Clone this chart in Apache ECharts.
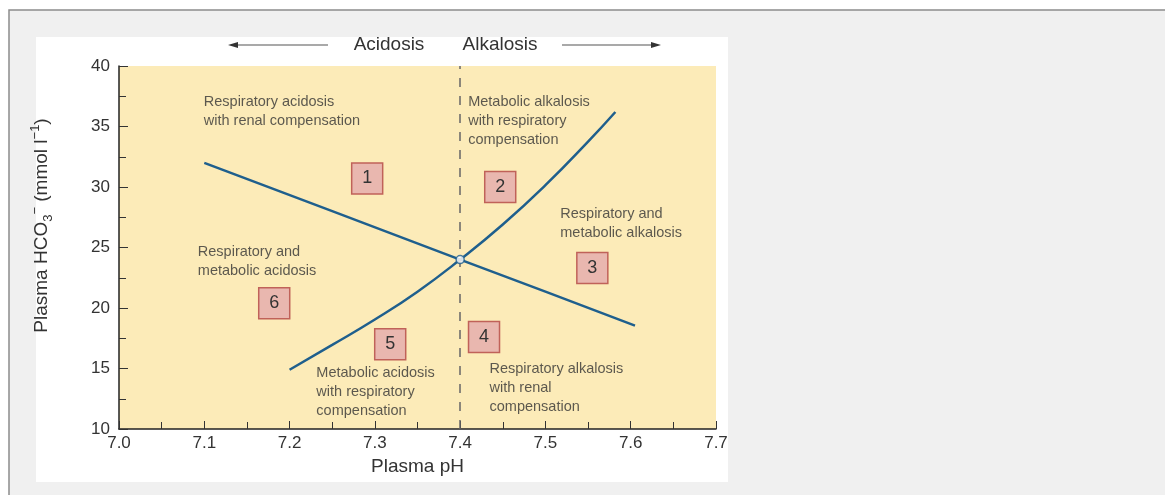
<!DOCTYPE html>
<html>
<head>
<meta charset="utf-8">
<script src="https://cdn.jsdelivr.net/npm/echarts@6/dist/echarts.min.js"></script>
<style>
html,body{margin:0;padding:0;background:#fff;}
#chart{width:1165px;height:495px;}
</style>
</head>
<body>
<div id="chart"></div>
<script>
// ---- data ----
const bufferLine = [[7.1, 32.0], [7.25, 28.0], [7.4, 24.0], [7.5, 21.35], [7.605, 18.55]];
const isoCO2Line = [[7.2, 14.9], [7.25, 16.95], [7.3, 19.05], [7.35, 21.35], [7.4, 24.0], [7.45, 26.9], [7.5, 30.15], [7.55, 33.75], [7.582, 36.2]];
const normalPoint = [[7.4, 24]];
const neutralPH = 7.4;
const boxNumbers = ['1', '2', '3', '4', '5', '6'];
const boxCoords = [[7.291, 30.7], [7.447, 30.0], [7.555, 23.3], [7.428, 17.6], [7.318, 17.0], [7.182, 20.4]];
const regionLabels = [
  'Respiratory acidosis\nwith renal compensation',
  'Metabolic alkalosis\nwith respiratory\ncompensation',
  'Respiratory and\nmetabolic alkalosis',
  'Respiratory and\nmetabolic acidosis',
  'Metabolic acidosis\nwith respiratory\ncompensation',
  'Respiratory alkalosis\nwith renal\ncompensation'
];
const regionAnchors = [[7.1, 37.8], [7.41, 37.8], [7.518, 28.55], [7.093, 25.4], [7.232, 15.4], [7.435, 15.7]];
const topLabels = ['Acidosis', 'Alkalosis'];
const xAxisName = 'Plasma pH';
const yAxisName = 'Plasma HCO{sub|3}{sup|\u2212} (mmol l{sup|\u22121})';

const FONT = "'Liberation Sans', Arial, sans-serif";
const BLUE = '#1f5f8d';
const chart = echarts.init(document.getElementById('chart'), null, {renderer: 'canvas'});

const option = {
  backgroundColor: '#ffffff',
  animation: false,
  textStyle: {fontFamily: FONT},
  grid: {left: 119, right: 449, top: 66, bottom: 66, show: true, backgroundColor: '#fcebb8', borderWidth: 0, containLabel: false},
  xAxis: {
    type: 'value', min: 7.0, max: 7.7, interval: 0.1,
    name: xAxisName, nameLocation: 'middle', nameGap: 28,
    nameTextStyle: {fontSize: 19, color: '#333', fontFamily: FONT},
    axisLine: {show: true, onZero: false, lineStyle: {color: '#222', width: 1.5}},
    axisTick: {show: true, inside: true, length: 8, lineStyle: {color: '#333', width: 1}},
    minorTick: {show: true, splitNumber: 2, length: 7, lineStyle: {color: '#333', width: 1}},
    splitLine: {show: false}, minorSplitLine: {show: false},
    axisLabel: {fontSize: 17, color: '#333', margin: 6, fontFamily: FONT, formatter: v => v.toFixed(1)}
  },
  yAxis: {
    type: 'value', min: 10, max: 40, interval: 5,
    name: yAxisName, nameLocation: 'middle', nameGap: 64, nameRotate: 90,
    nameTextStyle: {
      fontSize: 19, color: '#333', fontFamily: FONT, lineHeight: 26, padding: [0, 0, 0, 44],
      rich: {
        sub: {fontSize: 13, color: '#333', fontFamily: FONT, lineHeight: 26, verticalAlign: 'bottom'},
        sup: {fontSize: 13, color: '#333', fontFamily: FONT, lineHeight: 26, verticalAlign: 'top'}
      }
    },
    axisLine: {show: true, onZero: false, lineStyle: {color: '#222', width: 1.5}},
    axisTick: {show: true, inside: true, length: 9, lineStyle: {color: '#333', width: 1}},
    minorTick: {show: true, splitNumber: 2, length: 7, lineStyle: {color: '#333', width: 1}},
    splitLine: {show: false}, minorSplitLine: {show: false},
    axisLabel: {fontSize: 17, color: '#333', margin: 9, fontFamily: FONT}
  },
  graphic: [
    {type: 'rect', z: -100, shape: {x: 9, y: 10, width: 1200, height: 600}, style: {fill: '#f0f0f0', stroke: '#8c8c8c', lineWidth: 1.5}},
    {type: 'rect', z: -90, shape: {x: 36, y: 37, width: 692, height: 445}, style: {fill: '#ffffff'}},
    {type: 'text', z: 10, x: 389, y: 45, style: {text: topLabels[0], font: "19px 'Liberation Sans', Arial, sans-serif", fill: '#333', textAlign: 'center', textVerticalAlign: 'middle'}},
    {type: 'text', z: 10, x: 500, y: 45, style: {text: topLabels[1], font: "19px 'Liberation Sans', Arial, sans-serif", fill: '#333', textAlign: 'center', textVerticalAlign: 'middle'}},
    {type: 'line', z: 10, shape: {x1: 328, y1: 45, x2: 236, y2: 45}, style: {stroke: '#555', lineWidth: 1.2}},
    {type: 'polygon', z: 10, shape: {points: [[228, 45], [238, 42], [238, 48]]}, style: {fill: '#333'}},
    {type: 'line', z: 10, shape: {x1: 562, y1: 45, x2: 653, y2: 45}, style: {stroke: '#555', lineWidth: 1.2}},
    {type: 'polygon', z: 10, shape: {points: [[661, 45], [651, 42], [651, 48]]}, style: {fill: '#333'}}
  ],
  series: [
    {
      type: 'line', data: bufferLine, showSymbol: false, smooth: false, z: 3,
      lineStyle: {color: BLUE, width: 2.5},
      markLine: {
        silent: true, symbol: ['none', 'none'], label: {show: false},
        lineStyle: {color: '#666', width: 1.5, type: [9, 9]},
        data: [{xAxis: neutralPH}]
      }
    },
    {
      type: 'line', data: isoCO2Line, showSymbol: false, smooth: 0.5, z: 3,
      lineStyle: {color: BLUE, width: 2.5}
    },
    {
      type: 'scatter', data: normalPoint, symbol: 'circle', symbolSize: 8, z: 5,
      itemStyle: {color: '#ffffff', borderColor: BLUE, borderWidth: 1.5}
    },
    {
      type: 'scatter', data: boxCoords, symbol: 'rect', symbolSize: [31, 31], z: 4,
      itemStyle: {color: '#e9b7af', borderColor: '#c06259', borderWidth: 1.5, opacity: 1},
      label: {show: true, position: 'inside', fontSize: 18, color: '#333', fontFamily: FONT,
        formatter: p => boxNumbers[p.dataIndex]}
    },
    {
      type: 'scatter', data: regionAnchors, symbolSize: 1, z: 4,
      itemStyle: {color: 'transparent'},
      label: {show: true, position: [0, 0], align: 'left', verticalAlign: 'top',
        fontSize: 14.5, lineHeight: 19, color: '#333', fontFamily: FONT,
        formatter: p => regionLabels[p.dataIndex]}
    }
  ]
};
chart.setOption(option);
</script>
</body>
</html>
